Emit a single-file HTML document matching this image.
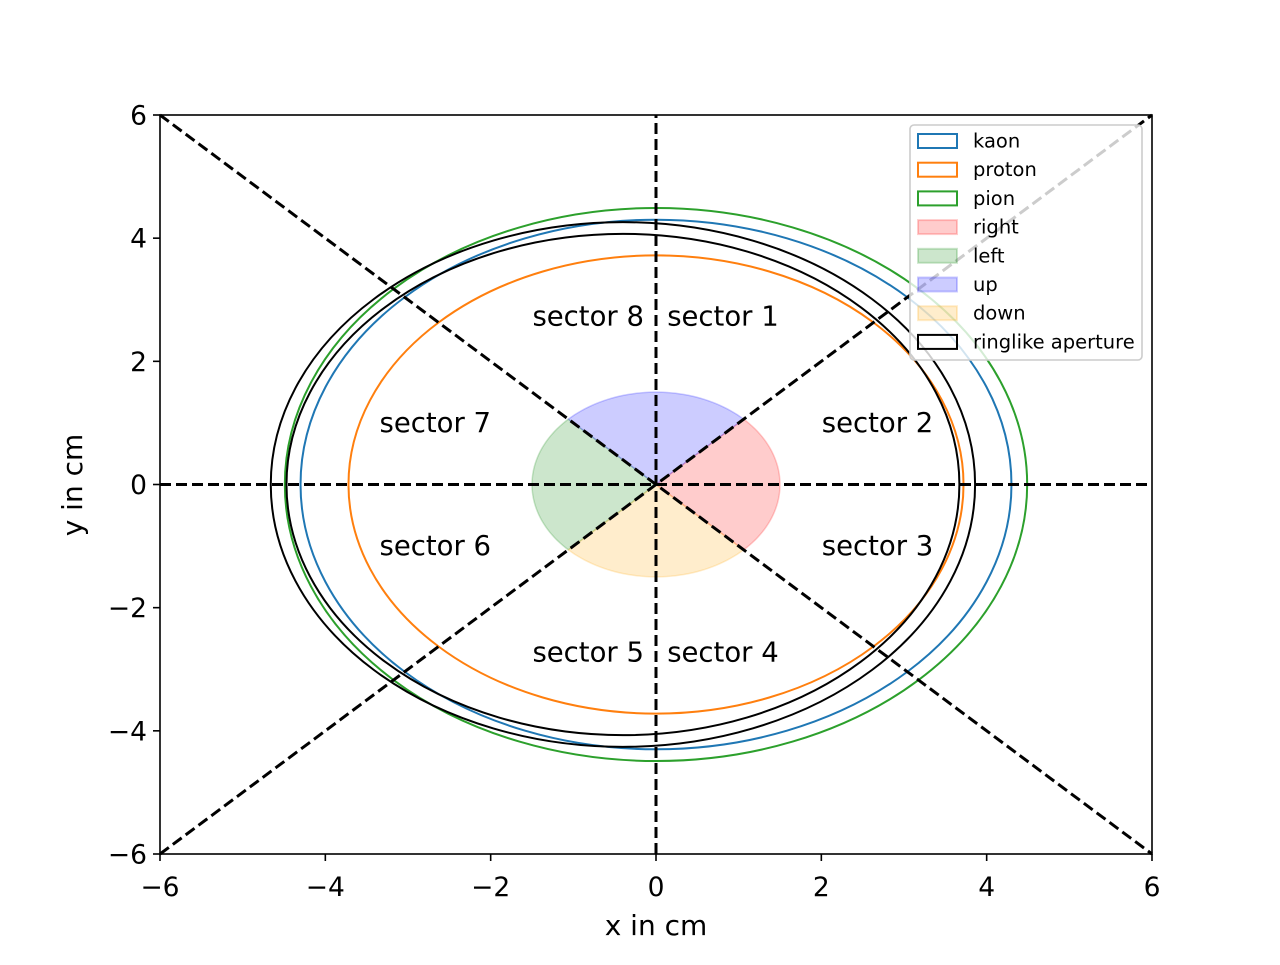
<!DOCTYPE html>
<html><head><meta charset="utf-8"><style>
body{margin:0;background:#fff}
svg text{font-family:"DejaVu Sans","Liberation Sans",sans-serif;fill:#000}
</style></head><body>
<svg id="chart" width="1280" height="960" viewBox="0 0 1280 960" xmlns="http://www.w3.org/2000/svg">
<g id="plot"></g>
</svg>
<script>
const xTicks=[-6,-4,-2,0,2,4,6];
const yTicks=[-6,-4,-2,0,2,4,6];
const ringNames=["kaon","proton","pion"];
const ringRadii=[4.3,3.72,4.49];
const ringColors=["#1f77b4","#ff7f0e","#2ca02c"];
const apertureCenterX=-0.4;
const apertureRadii=[4.26,4.07];
const wedgeNames=["right","left","up","down"];
const wedgeStart=[-45,135,45,225];
const wedgeEnd=[45,225,135,315];
const wedgeColors=["#ff0000","#008000","#0000ff","#ffa500"];
const wedgeRadius=1.5;
const sectorLabels=["sector 1","sector 2","sector 3","sector 4","sector 5","sector 6","sector 7","sector 8"];
const sectorX=[0.81,2.68,2.68,0.81,-0.82,-2.67,-2.67,-0.82];
const sectorY=[2.73,1.0,-1.0,-2.73,-2.73,-1.0,1.0,2.73];

const L=160,R=1152,T=115,B=854;
const sx=v=>L+(v+6)/12*(R-L);
const sy=v=>B-(v+6)/12*(B-T);
const NS="http://www.w3.org/2000/svg";
const g=document.getElementById('plot');
function mk(tag,attrs,parent){const e=document.createElementNS(NS,tag);for(const k in attrs)e.setAttribute(k,attrs[k]);(parent||g).appendChild(e);return e;}

wedgeNames.forEach((n,i)=>{
  let d=`M${sx(0)},${sy(0)}`;
  for(let a=wedgeStart[i];a<=wedgeEnd[i];a+=2){const r=a*Math.PI/180;d+=` L${sx(wedgeRadius*Math.cos(r))},${sy(wedgeRadius*Math.sin(r))}`;}
  d+='Z';
  const p=mk('path',{d:d,fill:wedgeColors[i],'fill-opacity':0.2,stroke:wedgeColors[i],'stroke-opacity':0.2,'stroke-width':1.5});
  
  
});
ringNames.forEach((n,i)=>{
  const e=mk('ellipse',{cx:sx(0),cy:sy(0),rx:sx(ringRadii[i])-sx(0),ry:sy(0)-sy(ringRadii[i]),fill:'none',stroke:ringColors[i],'stroke-width':2});
  
  
});
apertureRadii.forEach((r,i)=>{
  const e=mk('ellipse',{cx:sx(apertureCenterX),cy:sy(0),rx:sx(r)-sx(0),ry:sy(0)-sy(r),fill:'none',stroke:'#000','stroke-width':2});
  
  
});
[[0,-6,0,6],[-6,0,6,0],[-6,-6,6,6],[-6,6,6,-6]].forEach((l,i)=>{
  const e=mk('line',{x1:sx(l[0]),y1:sy(l[1]),x2:sx(l[2]),y2:sy(l[3]),stroke:'#000','stroke-width':3,'stroke-dasharray':'11,5'});
  
  
});
sectorLabels.forEach((s,i)=>{
  const t=mk('text',{x:sx(sectorX[i]),y:sy(sectorY[i])+9,'text-anchor':'middle','font-size':27.5});
  t.textContent=s;
  
  
});
const fr=mk('rect',{x:L,y:T,width:R-L,height:B-T,fill:'none',stroke:'#000','stroke-width':1.6});


const fmt=v=>v<0?'\u2212'+(-v):''+v;
xTicks.forEach(v=>{
  mk('line',{x1:sx(v),y1:B,x2:sx(v),y2:B+7,stroke:'#000','stroke-width':1.6});
  const t=mk('text',{x:sx(v),y:B+42,'text-anchor':'middle','font-size':26.5});
  t.textContent=fmt(v);
  
  
});
yTicks.forEach(v=>{
  mk('line',{x1:L-7,y1:sy(v),x2:L,y2:sy(v),stroke:'#000','stroke-width':1.6});
  const t=mk('text',{x:L-13,y:sy(v)+9.5,'text-anchor':'end','font-size':26.5});
  t.textContent=fmt(v);
  
  
});
const xt=mk('text',{x:656,y:935,'text-anchor':'middle','font-size':28});xt.textContent='x in cm';


const yt=mk('text',{x:82,y:485,'text-anchor':'middle','font-size':28,transform:'rotate(-90 82 485)'});yt.textContent='y in cm';


const lg=mk('g',{});


mk('rect',{x:910,y:125,width:232,height:235,rx:4,fill:'#fff','fill-opacity':0.8,stroke:'#ccc','stroke-width':1.6},lg);
const legNames=ringNames.concat(wedgeNames,["ringlike aperture"]);
legNames.forEach((n,i)=>{
  const y=141+i*28.7;
  let fill='none',stroke='#000',fo=1;
  if(i<3){stroke=ringColors[i];}
  else if(i<7){fill=wedgeColors[i-3];stroke=wedgeColors[i-3];fo=0.2;}
  mk('rect',{x:918,y:y-7,width:39,height:14,fill:fill,'fill-opacity':fo,stroke:stroke,'stroke-opacity':fo,'stroke-width':2},lg);
  const t=mk('text',{x:973,y:y+6.5,'font-size':19.5},lg);
  t.textContent=n;
  
  
});
</script>
</body></html>
